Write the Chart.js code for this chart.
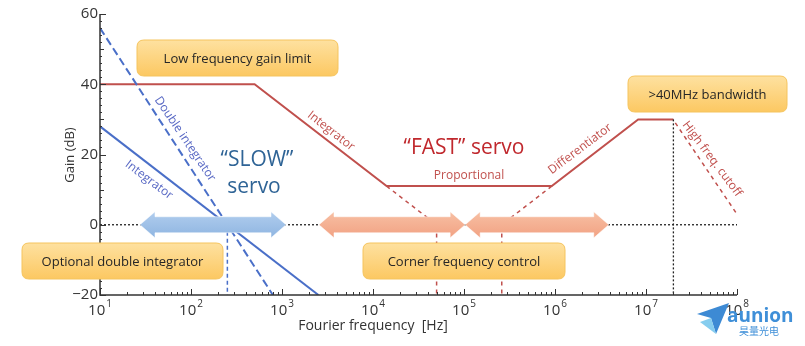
<!DOCTYPE html>
<html lang="en">
<head>
    <meta charset="UTF-8">
    <title>Servo loop gain</title>
    <script src="https://cdn.jsdelivr.net/npm/chart.js"></script>
    <style>
        html, body { margin: 0; padding: 0; background: #fff; }
        #wrap { width: 805px; height: 346px; }
    </style>
</head>
<body>
    <div id="wrap"><canvas id="gain-chart" width="805" height="346"></canvas></div>

    <script>
        // axis ranges and tick labels
        const xDecades = [1, 2, 3, 4, 5, 6, 7, 8];
        const yTicks = [-20, 0, 20, 40, 60];

        // FAST servo: gain limit, integrator, proportional, differentiator, bandwidth
        const fastFreq = [10, 500, 14100, 922000, 8.2e6, 2e7];
        const fastGain = [40, 40, 11, 11, 30, 30];
        // dashed extensions down to the corner frequencies
        const intExtFreq = [14100, 5e4, 5e4];
        const intExtGain = [11, 0, -20];
        const diffExtFreq = [922000, 2.6e5, 2.6e5];
        const diffExtGain = [11, 0, -20];
        const cutoffFreq = [2.1e7, 1e8];
        const cutoffGain = [29, 3];

        // SLOW servo
        const slowIntFreq = [10, 2512];
        const slowIntGain = [28, -20];
        const slowDblFreq = [10, 794];
        const slowDblGain = [56, -20];
        const slowCornerFreq = [251, 251];
        const slowCornerGain = [0, -20];

        // reference lines
        const zeroFreq = [10, 1e8];
        const zeroGain = [0, 0];
        const bwFreq = [2e7, 2e7];
        const bwGain = [30, -20];

        // tuning ranges (double arrows on the 0 dB line)
        const slowRange = [27.5, 1107];
        const fastRanges = [[2550, 1.03e5], [1.03e5, 3.9e6]];

        const FONT = "'Open Sans', 'Noto Sans', sans-serif";
        const RED = '#c0504d';
        const BLUE = '#4a6fc8';

        function pts(xs, ys) {
            return xs.map((x, i) => ({ x: x, y: ys[i] }));
        }

        function line(xs, ys, color, width, dash) {
            return {
                data: pts(xs, ys),
                showLine: true,
                borderColor: color,
                borderWidth: width,
                borderDash: dash || [],
                pointRadius: 0,
                fill: false
            };
        }

        function roundRect(ctx, x, y, w, h, r) {
            ctx.beginPath();
            ctx.moveTo(x + r, y);
            ctx.lineTo(x + w - r, y);
            ctx.quadraticCurveTo(x + w, y, x + w, y + r);
            ctx.lineTo(x + w, y + h - r);
            ctx.quadraticCurveTo(x + w, y + h, x + w - r, y + h);
            ctx.lineTo(x + r, y + h);
            ctx.quadraticCurveTo(x, y + h, x, y + h - r);
            ctx.lineTo(x, y + r);
            ctx.quadraticCurveTo(x, y, x + r, y);
            ctx.closePath();
        }

        function noteBox(ctx, x, y, w, h, txt) {
            const g = ctx.createLinearGradient(0, y, 0, y + h);
            g.addColorStop(0, '#fee1a0');
            g.addColorStop(1, '#fcc862');
            roundRect(ctx, x, y, w, h, 7);
            ctx.fillStyle = g;
            ctx.fill();
            ctx.strokeStyle = '#f5c45e';
            ctx.lineWidth = 1;
            ctx.stroke();
            ctx.fillStyle = '#262626';
            ctx.font = '13px ' + FONT;
            ctx.textAlign = 'center';
            ctx.textBaseline = 'middle';
            ctx.fillText(txt, x + w / 2, y + h / 2 + 1);
        }

        function label(ctx, txt, x, y, deg, font, color) {
            ctx.save();
            ctx.translate(x, y);
            ctx.rotate(deg * Math.PI / 180);
            ctx.font = font;
            ctx.fillStyle = color;
            ctx.textAlign = 'center';
            ctx.textBaseline = 'middle';
            ctx.fillText(txt, 0, 0);
            ctx.restore();
        }

        function doubleArrow(ctx, x1, x2, yc, c1, c2) {
            const head = 15, hh = 13, sh = 8;
            const g = ctx.createLinearGradient(0, yc - hh, 0, yc + hh);
            g.addColorStop(0, c1);
            g.addColorStop(1, c2);
            ctx.beginPath();
            ctx.moveTo(x1, yc);
            ctx.lineTo(x1 + head, yc - hh);
            ctx.lineTo(x1 + head, yc - sh);
            ctx.lineTo(x2 - head, yc - sh);
            ctx.lineTo(x2 - head, yc - hh);
            ctx.lineTo(x2, yc);
            ctx.lineTo(x2 - head, yc + hh);
            ctx.lineTo(x2 - head, yc + sh);
            ctx.lineTo(x1 + head, yc + sh);
            ctx.lineTo(x1 + head, yc + hh);
            ctx.closePath();
            ctx.fillStyle = g;
            ctx.fill();
            ctx.strokeStyle = 'rgba(255,255,255,0.5)';
            ctx.lineWidth = 1;
            ctx.stroke();
        }

        function drawAxes(ctx, xs, ys, area) {
            ctx.strokeStyle = '#333';
            ctx.lineWidth = 1.5;
            ctx.beginPath();
            ctx.moveTo(area.left, area.top);
            ctx.lineTo(area.left, area.bottom);
            ctx.lineTo(area.right, area.bottom);
            ctx.stroke();

            ctx.lineWidth = 1;
            ctx.beginPath();
            for (let v = -20; v <= 60; v += 2) {
                const py = Math.round(ys.getPixelForValue(v)) + 0.5;
                const len = v % 20 === 0 ? 6 : (v % 10 === 0 ? 4 : 2);
                ctx.moveTo(area.left, py);
                ctx.lineTo(area.left + len, py);
            }
            xDecades.forEach(d => {
                const base = Math.pow(10, d - 1);
                const px = Math.round(xs.getPixelForValue(Math.pow(10, d))) + 0.5;
                ctx.moveTo(px, area.bottom);
                ctx.lineTo(px, area.bottom - 6);
                if (d === 1) return;
                for (let m = 2; m <= 9; m++) {
                    const mx = Math.round(xs.getPixelForValue(base * m)) + 0.5;
                    ctx.moveTo(mx, area.bottom);
                    ctx.lineTo(mx, area.bottom - 3);
                }
            });
            ctx.stroke();

            // tick labels
            ctx.fillStyle = '#333';
            ctx.font = '15px ' + FONT;
            ctx.textAlign = 'right';
            ctx.textBaseline = 'middle';
            yTicks.forEach(v => {
                ctx.fillText(String(v).replace('-', '\u2212'), area.left - 2, ys.getPixelForValue(v));
            });
            xDecades.forEach(d => {
                const px = xs.getPixelForValue(Math.pow(10, d));
                ctx.font = '15px ' + FONT;
                const w1 = ctx.measureText('10').width;
                ctx.font = '10px ' + FONT;
                const w2 = ctx.measureText(String(d)).width;
                const left = px - (w1 + w2 + 1) / 2;
                ctx.textAlign = 'left';
                ctx.textBaseline = 'alphabetic';
                ctx.font = '15px ' + FONT;
                ctx.fillText('10', left, area.bottom + 20);
                ctx.font = '10px ' + FONT;
                ctx.fillText(String(d), left + w1 + 1, area.bottom + 12);
            });

            // axis titles
            label(ctx, 'Gain (dB)', 70, 155, -90, '13px ' + FONT, '#333');
            label(ctx, 'Fourier frequency  [Hz]', 373, 326, 0, '14px ' + FONT, '#333');
        }

        function drawLogo(ctx) {
            ctx.fillStyle = '#3d8ad4';
            ctx.beginPath();
            ctx.moveTo(697, 314);
            ctx.lineTo(729, 303);
            ctx.lineTo(716, 334);
            ctx.lineTo(711, 318);
            ctx.closePath();
            ctx.fill();
            ctx.fillStyle = '#86cdef';
            ctx.beginPath();
            ctx.moveTo(700, 322);
            ctx.lineTo(711, 318);
            ctx.lineTo(716, 334);
            ctx.closePath();
            ctx.fill();
            ctx.fillStyle = '#3f8fd8';
            ctx.font = 'bold 19px ' + FONT;
            ctx.textAlign = 'left';
            ctx.textBaseline = 'alphabetic';
            ctx.fillText('aunion', 727, 322);
            ctx.font = "10px 'Noto Sans CJK SC', sans-serif";
            ctx.fillText('昊量光电', 739, 335);
        }

        const overlay = {
            id: 'overlay',
            afterDatasetsDraw(chart) {
                const ctx = chart.ctx;
                const xs = chart.scales.x, ys = chart.scales.y;
                const area = chart.chartArea;
                const y0 = ys.getPixelForValue(0);

                ctx.save();
                drawAxes(ctx, xs, ys, area);

                // tuning range arrows
                doubleArrow(ctx, xs.getPixelForValue(slowRange[0]), xs.getPixelForValue(slowRange[1]), y0, '#b0cdee', '#8fb5e1');
                fastRanges.forEach(r => {
                    doubleArrow(ctx, xs.getPixelForValue(r[0]), xs.getPixelForValue(r[1]), y0, '#f7bfa3', '#f2a283');
                });

                // note boxes
                noteBox(ctx, 137, 40, 201, 36, 'Low frequency gain limit');
                noteBox(ctx, 22, 243, 201, 36, 'Optional double integrator');
                noteBox(ctx, 363, 243, 202, 36, 'Corner frequency control');
                noteBox(ctx, 628, 76, 159, 36, '>40MHz bandwidth');

                // servo titles and slope labels
                label(ctx, '\u201cSLOW\u201d', 257, 160, 0, '21px ' + FONT, '#2f6496');
                label(ctx, 'servo', 254, 187, 0, '21px ' + FONT, '#2f6496');
                label(ctx, '\u201cFAST\u201d servo', 464, 148, 0, '21px ' + FONT, '#c0282d');
                label(ctx, 'Proportional', 469, 176, 0, '12px ' + FONT, RED);
                label(ctx, 'Integrator', 331, 131, 38, '12px ' + FONT, RED);
                label(ctx, 'Differentiator', 580, 149, -37, '12px ' + FONT, RED);
                label(ctx, 'High freq. cutoff', 712, 159, 53, '12px ' + FONT, RED);
                label(ctx, 'Double integrator', 185, 139, 56, '12px ' + FONT, '#5868c4');
                label(ctx, 'Integrator', 149, 180, 37, '12px ' + FONT, '#5868c4');

                drawLogo(ctx);
                ctx.restore();
            }
        };

        new Chart(document.getElementById('gain-chart').getContext('2d'), {
            type: 'scatter',
            data: {
                datasets: [
                    line(zeroFreq, zeroGain, '#222', 1.3, [2, 2]),
                    line(bwFreq, bwGain, '#222', 1.3, [2, 2]),
                    line(intExtFreq, intExtGain, RED, 1.5, [4, 4]),
                    line(diffExtFreq, diffExtGain, RED, 1.5, [4, 4]),
                    line(cutoffFreq, cutoffGain, RED, 1.5, [4, 4]),
                    line(slowCornerFreq, slowCornerGain, BLUE, 1.5, [4, 3]),
                    line(slowDblFreq, slowDblGain, BLUE, 2, [8, 4]),
                    line(slowIntFreq, slowIntGain, BLUE, 2),
                    line(fastFreq, fastGain, RED, 2)
                ]
            },
            options: {
                responsive: false,
                animation: false,
                layout: { padding: { left: 100, right: 68, top: 14, bottom: 51 } },
                plugins: { legend: { display: false }, tooltip: { enabled: false } },
                scales: {
                    x: { type: 'logarithmic', min: 10, max: 1e8, display: false },
                    y: { type: 'linear', min: -20, max: 60, display: false }
                }
            },
            plugins: [overlay]
        });
    </script>
</body>
</html>
